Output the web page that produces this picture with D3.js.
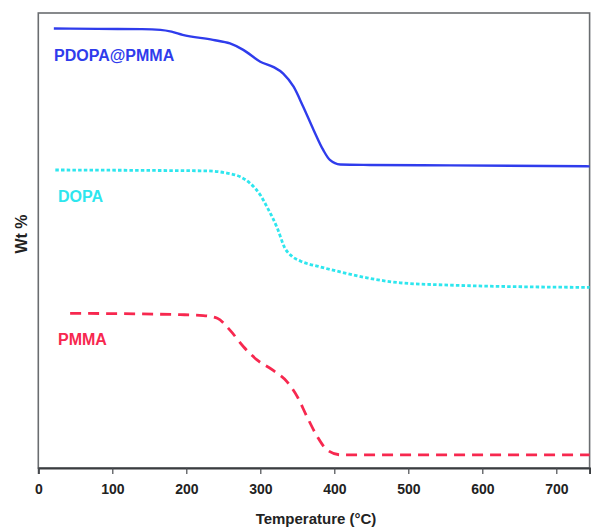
<!DOCTYPE html>
<html>
<head>
<meta charset="utf-8">
<script src="https://cdn.jsdelivr.net/npm/d3@7"></script>
<style>
  html, body { margin: 0; padding: 0; background: #fff; }
  svg { display: block; font-family: "Liberation Sans", Arial, sans-serif; }
</style>
</head>
<body>
<svg id="chart" width="591" height="527"></svg>
<script>
// Thermogravimetric curves (vertically offset for clarity)
const xTicks = [0, 100, 200, 300, 400, 500, 600, 700];

const pdopaPmmaTemp = [21, 80, 140, 165, 180, 195, 236, 259, 277, 300, 318, 331, 345, 358, 372, 385, 394, 408, 448, 556, 745];
const pdopaPmmaWt   = [96.6, 96.5, 96.45, 96.3, 95.9, 95.2, 94.1, 93.3, 91.9, 89.3, 88.1, 86.7, 83.8, 79.4, 74.3, 69.9, 67.7, 66.7, 66.6, 66.5, 66.3];

const dopaTemp = [23, 151, 228, 255, 273, 286, 300, 309, 323, 333, 343, 354, 381, 408, 444, 489, 556, 668, 745];
const dopaWt   = [65.5, 65.4, 65.3, 64.8, 64.0, 62.6, 60.0, 57.4, 52.7, 48.4, 46.5, 45.5, 44.2, 43.1, 41.8, 40.7, 40.2, 39.8, 39.7];

const pmmaTemp = [43, 192, 223, 242, 259, 277, 296, 317, 336, 350, 363, 377, 390, 408, 489, 745];
const pmmaWt   = [34.0, 33.7, 33.5, 32.9, 30.3, 26.7, 23.7, 21.5, 19.0, 15.7, 11.3, 6.9, 4.0, 2.9, 2.9, 2.9];

const seriesNames = ["PDOPA@PMMA", "DOPA", "PMMA"];

const svg = d3.select("#chart");
const margin = { left: 38.3, top: 13, bottom: 468 };
const x = d3.scaleLinear().domain([0, 745]).range([margin.left, margin.left + 0.74 * 745]);
const y = d3.scaleLinear().domain([0, 100]).range([margin.bottom, margin.top]);

// plot frame
svg.append("rect")
  .attr("x", x(0)).attr("y", y(100))
  .attr("width", x(745) - x(0)).attr("height", y(0) - y(100))
  .attr("fill", "none").attr("stroke", "#6a6d70").attr("stroke-width", 1.6);

// x axis
const xAxis = d3.axisBottom(x).tickValues(xTicks).tickSize(6).tickPadding(10).tickFormat(d3.format("d"));
const gx = svg.append("g").attr("transform", `translate(0,${y(0)})`).call(xAxis);
gx.select(".domain").attr("stroke", "#3a3d40").attr("stroke-width", 2);
gx.selectAll(".tick line").attr("stroke", "#4a4d50").attr("stroke-width", 1.2);
gx.selectAll(".tick text")
  .attr("fill", "#222").attr("font-size", 14).attr("font-weight", "bold")
  .attr("font-family", "'Liberation Sans', Arial, sans-serif");

// axis titles
svg.append("text")
  .attr("x", 316).attr("y", 524)
  .attr("text-anchor", "middle").attr("font-size", 15).attr("font-weight", "bold").attr("fill", "#222")
  .text("Temperature (°C)");
svg.append("text")
  .attr("transform", "translate(27,234) rotate(-90)")
  .attr("text-anchor", "middle").attr("font-size", 16).attr("font-weight", "bold").attr("fill", "#222")
  .text("Wt %");

const line = d3.line().x(d => x(d[0])).y(d => y(d[1])).curve(d3.curveMonotoneX);
const zip = (a, b) => a.map((v, i) => [v, b[i]]);

const series = [
  { name: seriesNames[0], data: zip(pdopaPmmaTemp, pdopaPmmaWt), color: "#2f3cec", dash: null, width: 2.4, label: [54, 61] },
  { name: seriesNames[1], data: zip(dopaTemp, dopaWt), color: "#2ee6ee", dash: "3.5,2.2", width: 2.8, label: [58, 202] },
  { name: seriesNames[2], data: zip(pmmaTemp, pmmaWt), color: "#f7284f", dash: "11,7", width: 2.8, label: [58, 345] }
];

series.forEach(s => {
  svg.append("path")
    .datum(s.data)
    .attr("d", line)
    .attr("fill", "none")
    .attr("stroke", s.color)
    .attr("stroke-width", s.width)
    .attr("stroke-dasharray", s.dash);
  svg.append("text")
    .attr("x", s.label[0]).attr("y", s.label[1])
    .attr("font-size", 16).attr("font-weight", "bold").attr("fill", s.color)
    .text(s.name);
});
</script>
</body>
</html>
